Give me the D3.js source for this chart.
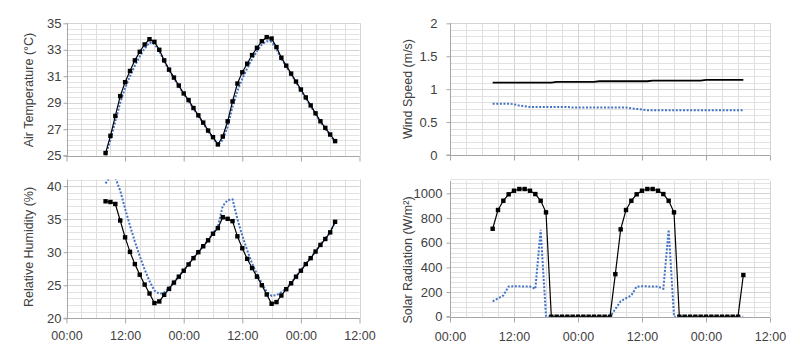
<!DOCTYPE html>
<html><head><meta charset="utf-8">
<script src="https://cdn.jsdelivr.net/npm/d3@7"></script>
<style>
body{margin:0;background:#fff}
svg{display:block}
text{font-family:"Liberation Sans",Arial,sans-serif;fill:#404040}
</style>
</head><body>
<svg id="c" width="800" height="348"></svg>
<script>
// ---- data (hours since 00:00 of day 1) ----
const hours = [8,9,10,11,12,13,14,15,16,17,18,19,20,21,22,23,24,25,26,27,28,29,30,31,32,33,34,35,36,37,38,39,40,41,42,43,44,45,46,47,48,49,50,51,52,53,54,55];
const xTickValues = [0,12,24,36,48,60];
const xTickLabels = ["00:00","12:00","00:00","12:00","00:00","12:00"];

const tempBlack = [25.2,26.5,28.0,29.5,30.55,31.4,32.2,32.85,33.4,33.8,33.6,33.0,32.2,31.5,30.9,30.3,29.7,29.2,28.6,28.05,27.5,26.9,26.4,25.85,26.45,27.6,29.1,30.45,31.3,31.95,32.6,33.15,33.65,33.95,33.85,33.2,32.4,31.8,31.2,30.6,30.0,29.4,28.8,28.2,27.6,27.1,26.6,26.1];
const tempBlue  = [25.0,26.2,27.6,29.0,30.1,31.0,31.8,32.5,33.1,33.55,33.45,32.9,32.15,31.45,30.85,30.25,29.65,29.15,28.55,28.0,27.45,26.85,26.35,25.8,26.2,27.2,28.7,29.9,30.8,31.6,32.3,32.9,33.4,33.65,33.6,33.05,32.3,31.75,31.15,30.55,29.95,29.35,28.75,28.15,27.55,27.05,26.55,26.05];

const windBlack = [1.10,1.10,1.10,1.10,1.10,1.10,1.10,1.10,1.10,1.10,1.10,1.10,1.11,1.11,1.11,1.11,1.11,1.11,1.11,1.11,1.12,1.12,1.12,1.12,1.12,1.12,1.12,1.12,1.12,1.12,1.13,1.13,1.13,1.13,1.13,1.13,1.13,1.13,1.13,1.13,1.14,1.14,1.14,1.14,1.14,1.14,1.14,1.14];
const windBlue  = [0.78,0.78,0.78,0.78,0.77,0.75,0.74,0.73,0.73,0.73,0.73,0.73,0.73,0.73,0.73,0.72,0.72,0.72,0.72,0.72,0.72,0.72,0.72,0.72,0.72,0.72,0.71,0.70,0.69,0.68,0.68,0.68,0.68,0.68,0.68,0.68,0.68,0.68,0.68,0.68,0.68,0.68,0.68,0.68,0.68,0.68,0.68,0.68];

const rhBlack = [37.7,37.6,37.3,34.8,32.25,30.05,28.2,26.6,25.1,23.75,22.3,22.55,23.55,24.45,25.4,26.3,27.2,28.15,29.1,30.0,30.9,31.8,32.8,33.65,35.3,35.05,34.7,32.4,30.6,29.0,27.6,26.3,25.0,23.6,22.2,22.45,23.45,24.4,25.3,26.3,27.2,28.2,29.1,30.1,31.1,32.0,33.0,34.6];
const rhBlue  = [40.4,41.5,41.3,39.3,36.6,34.0,31.6,29.4,27.4,25.6,24.2,23.7,23.9,24.6,25.45,26.35,27.25,28.2,29.15,30.05,30.95,31.85,32.85,33.9,37.0,37.9,38.0,35.0,32.5,30.3,28.3,26.7,25.3,24.0,23.4,23.5,23.95,24.5,25.35,26.35,27.25,28.25,29.15,30.15,31.15,32.05,33.05,34.55];

const solarBlack = [713,865,940,992,1021,1035,1035,1021,994,940,846,0,0,0,0,0,0,0,0,0,0,0,0,345,708,865,940,992,1021,1035,1035,1021,994,940,846,0,0,0,0,0,0,0,0,0,0,0,0,338];
const solarBlue  = [125,148,172,245,246,246,245,244,226,705,0,0,0,0,0,0,0,0,0,0,0,0,0,62,125,150,172,245,246,246,245,244,226,705,0,0,0,0,0,0,0,0,0,0,0,0,0,0];

// ---- layout ----
const svg = d3.select("#c");
const panels = [
  {id:"t", left:66.5, right:359.5, bottom:155.7, top:23.3, domain:[25,35], majors:[25,27,29,31,33,35], minor:0.4,
   fmt:d=>d, black:tempBlack, blue:tempBlue, markers:true, title:"Air Temperature (°C)", tx:29, ty:90, tickPad:2, xlabels:false},
  {id:"w", left:450, right:770, bottom:155, top:23.3, domain:[0,2], majors:[0,0.5,1,1.5,2], minor:0.1,
   fmt:d=>String(d), black:windBlack, blue:windBlue, markers:false, title:"Wind Speed (m/s)", tx:408, ty:89, tickPad:9, xlabels:false},
  {id:"r", left:66.5, right:359.5, bottom:318.3, top:179.5, domain:[20,41], majors:[20,25,30,35,40], minor:1,
   fmt:d=>d, black:rhBlack, blue:rhBlue, markers:true, title:"Relative Humidity (%)", tx:29, ty:247, tickPad:2, xlabels:true, xpad:8},
  {id:"s", left:450, right:770, bottom:316.7, top:181, domain:[0,1100], majors:[0,200,400,600,800,1000], minor:40,
   fmt:d=>d, black:solarBlack, blue:solarBlue, markers:true, title:"Solar Radiation  (W/m²)", tx:408, ty:260, tickPad:4, xlabels:true, xpad:9.5}
];

panels.forEach(p => {
  const x = d3.scaleLinear().domain([0,60]).range([p.left,p.right]);
  const y = d3.scaleLinear().domain(p.domain).range([p.bottom,p.top]);
  const g = svg.append("g");

  svg.append("clipPath").attr("id","clip-"+p.id)
    .append("rect").attr("x",p.left).attr("y",p.top).attr("width",p.right-p.left).attr("height",p.bottom-p.top);

  const minors = d3.range(0, Math.round((p.domain[1]-p.domain[0])/p.minor)+1).map(i => p.domain[0]+i*p.minor);
  g.selectAll(".hm").data(minors).join("line")
    .attr("x1",p.left).attr("x2",p.right)
    .attr("y1",d=>Math.round(y(d))+0.5).attr("y2",d=>Math.round(y(d))+0.5)
    .attr("stroke","#e2e2e2").attr("stroke-width",1);
  g.selectAll(".vm").data(d3.range(3,61,3)).join("line")
    .attr("x1",d=>Math.round(x(d))+0.5).attr("x2",d=>Math.round(x(d))+0.5)
    .attr("y1",p.top).attr("y2",p.bottom)
    .attr("stroke","#dedede").attr("stroke-width",1);
  g.selectAll(".hM").data(p.majors).join("line")
    .attr("x1",p.left).attr("x2",p.right)
    .attr("y1",d=>Math.round(y(d))+0.5).attr("y2",d=>Math.round(y(d))+0.5)
    .attr("stroke","#d4d4d4").attr("stroke-width",1);
  g.selectAll(".vM").data(xTickValues.slice(1)).join("line")
    .attr("x1",d=>Math.round(x(d))+0.5).attr("x2",d=>Math.round(x(d))+0.5)
    .attr("y1",p.top).attr("y2",p.bottom)
    .attr("stroke","#d4d4d4").attr("stroke-width",1);

  const ya = d3.axisLeft(y).tickValues(p.majors).tickFormat(p.fmt).tickSize(4).tickPadding(p.tickPad);
  const yg = g.append("g").attr("transform",`translate(${Math.round(p.left)+0.5},0)`).call(ya);
  yg.select(".domain").attr("stroke","#a6a6a6").attr("d",`M-4,${p.bottom}H0V${p.top}`);
  yg.selectAll(".tick line").attr("stroke","#a6a6a6");
  yg.selectAll("text").attr("font-size",13).style("fill","#404040");

  const xa = d3.axisBottom(x).tickValues(xTickValues).tickSize(5).tickPadding(p.xpad||8)
    .tickFormat((d,i)=>p.xlabels ? xTickLabels[i] : "");
  const xg = g.append("g").attr("transform",`translate(0,${Math.round(p.bottom)+0.5})`).call(xa);
  xg.select(".domain").attr("stroke","#a6a6a6").attr("d",`M${p.left},0H${p.right}`);
  xg.selectAll(".tick line").attr("stroke","#a6a6a6");
  xg.selectAll("text").attr("font-size",12.5).style("fill","#404040");

  g.append("text").attr("transform",`translate(${p.tx},${p.ty}) rotate(-90)`)
    .attr("text-anchor","middle").attr("dominant-baseline","central")
    .attr("font-size",12.5).text(p.title);

  const plot = g.append("g").attr("clip-path",`url(#clip-${p.id})`);
  const line = d3.line().x((d,i)=>x(hours[i])).y(d=>y(d));

  plot.append("path").datum(p.blue).attr("d",line)
    .attr("fill","none").attr("stroke","#4472c4").attr("stroke-width",2)
    .attr("stroke-dasharray","2,1.6");
  plot.append("path").datum(p.black).attr("d",line)
    .attr("fill","none").attr("stroke","#000").attr("stroke-width",p.markers?1.2:1.8);
  if (p.markers) {
    plot.selectAll(".mk").data(p.black).join("rect")
      .attr("x",(d,i)=>x(hours[i])-2.2).attr("y",d=>y(d)-2.2)
      .attr("width",4.4).attr("height",4.4).attr("fill","#000");
  }
});
</script>
</body></html>
